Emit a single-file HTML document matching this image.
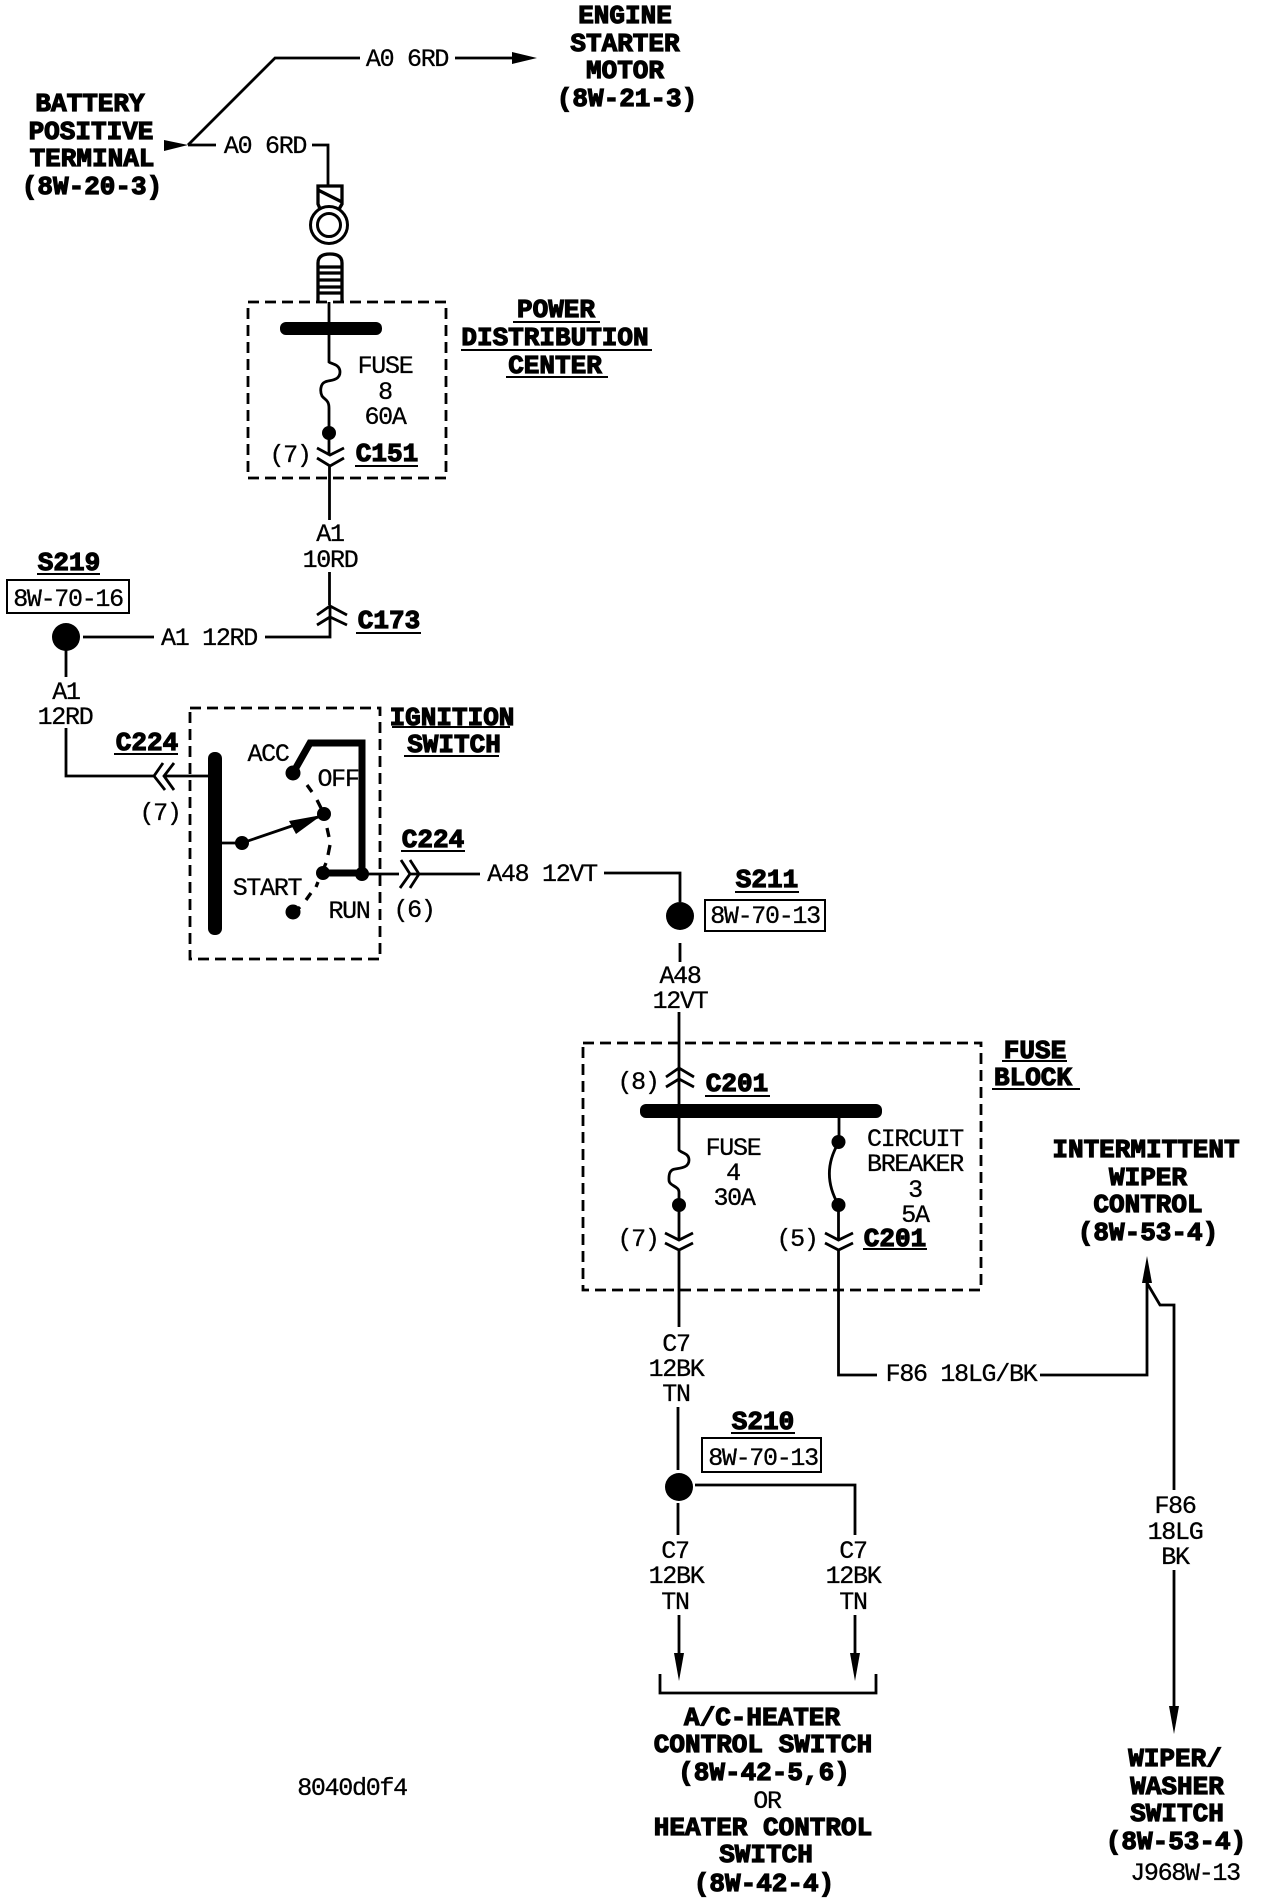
<!DOCTYPE html>
<html><head><meta charset="utf-8"><style>
html,body{margin:0;padding:0;background:#fff;width:1264px;height:1898px;overflow:hidden}
svg{display:block}
.w{fill:none;stroke:#000;stroke-width:2.8}
.h{fill:none;stroke:#000;stroke-width:3.3}
.t{fill:none;stroke:#000;stroke-width:7}
.d{fill:none;stroke:#000;stroke-width:2.8;stroke-dasharray:11 6}
.u{fill:none;stroke:#000;stroke-width:2}
text{font-family:"Liberation Mono",monospace;fill:#000;text-anchor:middle}
.n{font-size:25px;letter-spacing:-1.3px;stroke:#000;stroke-width:.3px}
.b{font-size:26px;font-weight:bold;stroke:#000;stroke-width:1.2px}
</style></head><body>
<svg xmlns="http://www.w3.org/2000/svg" width="1264" height="1898" viewBox="0 0 1264 1898">
<!-- top wires -->
<path class="w" d="M188 145L275 58H360M455 58H514"/>
<path d="M512 52L537 58L512 64Z"/>
<path d="M164 140L188 145L164 151Z"/>
<path class="w" d="M188 145H216M312 145H328V185"/>
<!-- terminal -->
<path class="h" d="M321 211L318 204V186H342V204L338 211M318 190L342 202"/>
<circle cx="329" cy="225" r="18.500" fill="#fff" stroke="#000" stroke-width="3"/>
<circle cx="329" cy="225" r="11.500" fill="none" stroke="#000" stroke-width="3"/>
<path class="h" d="M318 302V263Q318 254 330 254Q342 254 342 263V302M318 267H342M318 273H342M318 280H342M318 287H342M318 293H342"/>
<!-- PDC -->
<rect class="d" x="248" y="302" width="198" height="176"/>
<rect x="280" y="322" width="102" height="13" rx="6"/>
<path class="w" d="M329 302V362C331 364 340 364 340 372C340 381 329 380 325 382C320 384 320 392 322 396C325 400 329 400 329 408V455"/>
<circle cx="329" cy="433" r="7"/>
<path class="w" d="M317 448L330 455L344 448M317 458L330 466L344 458M329.500 466V520M329.500 572V605"/>
<path class="w" d="M317 615L330 606L347 615M317 625L330 617L347 625M330 606V637H265"/>
<path class="w" d="M83 637H154"/>
<circle cx="66" cy="637" r="14"/>
<path class="w" d="M66 650V677M66 728V776H154M163 763L154 776L165 790M174 763L164 776L174 790M164 776H209"/>
<rect class="w" style="stroke-width:2" x="7" y="580" width="122" height="33"/>
<!-- Ignition -->
<rect class="d" x="190" y="708" width="190" height="251"/>
<rect x="208" y="752" width="14" height="183" rx="6.500"/>
<path class="t" d="M293 773L310 743H362V873H323"/>
<circle cx="293" cy="773" r="7.500"/><circle cx="324" cy="814" r="7"/><circle cx="242" cy="843" r="7"/>
<circle cx="323" cy="873" r="7"/><circle cx="362" cy="874" r="7"/><circle cx="293" cy="912" r="7.500"/>
<path class="w" d="M222 843H242L324 815"/>
<path d="M289 821L322 815L296 834Z"/>
<path class="h" d="M307 785L312 792M317 800L321 808M327 828L329 837M330 845L328 855M326 863L323 870M318 882L316 887M311 893L306 900M300 907L298 909"/>
<path class="w" d="M362 874H399M401 860L410 874L400 888M410 860L419 874L410 888M410 874H480M604 873H680V902"/>
<circle cx="680" cy="916" r="14"/>
<rect class="w" style="stroke-width:2" x="705" y="900" width="120" height="31"/>
<path class="w" d="M680 943V962M679 1012V1104"/>
<!-- Fuse block -->
<rect class="d" x="583" y="1043" width="398" height="247"/>
<path class="w" d="M666 1077L679 1068L694 1077M666 1087L679 1079L694 1087"/>
<rect x="640" y="1104" width="242" height="14" rx="6"/>
<path class="w" d="M679 1118V1150C681 1153 689 1153 689 1160C689 1168 680 1168 675 1169C668 1170 669 1178 669 1180C669 1186 679 1186 679 1192V1240"/>
<circle cx="679" cy="1205" r="7"/><circle cx="838.500" cy="1142" r="7"/><circle cx="838.500" cy="1205" r="7"/>
<path class="w" d="M665 1233L679 1240L693 1233M665 1243L679 1250L693 1243M679 1250V1327"/>
<path class="w" d="M839 1118V1142Q820 1173 838.500 1205V1240M838.500 1250V1375H877"/>
<path class="w" d="M825 1233L838.500 1240L853 1233M825 1243L838.500 1250L853 1243"/>
<path class="w" d="M1040 1375H1147V1282"/>
<path d="M1147 1256L1152 1283H1142Z"/>
<path class="w" d="M1147 1283L1160 1305H1174V1490M1174 1570V1707"/>
<path d="M1169 1706H1179L1174 1734Z"/>
<!-- S210 -->
<path class="w" d="M678 1407V1470M678 1503V1535M695 1485H855V1535M679 1615V1653M855 1615V1653"/>
<circle cx="679" cy="1487" r="14"/>
<rect class="w" style="stroke-width:2" x="702" y="1438" width="119" height="34"/>
<path d="M674 1653H684L679 1681Z"/><path d="M850 1653H860L855 1681Z"/>
<path class="w" d="M660 1674V1693H876V1674"/>
<!-- underlines -->
<path class="u" d="M513 322H600M461 350H652M506 377H608M355 466H418M356 633H421M37 574H100M114 754H178M392 727H510M404 756H499M401 851H465M735 892H799M705 1096H770M863 1249H927M1002 1061H1067M992 1089H1080M731 1433H795"/>
<g transform="translate(0,8)">
<text class="b" x="625" y="15">ENGINE</text>
<text class="b" x="625" y="43">STARTER</text>
<text class="b" x="625" y="70">MOTOR</text>
<text class="b" x="627" y="98">(8W-21-3)</text>
<text class="b" x="90" y="103">BATTERY</text>
<text class="b" x="91" y="131">POSITIVE</text>
<text class="b" x="92" y="158">TERMINAL</text>
<text class="b" x="92" y="186">(8W-20-3)</text>
<text class="b" x="556" y="309">POWER</text>
<text class="b" x="555" y="337">DISTRIBUTION</text>
<text class="b" x="555" y="365">CENTER</text>
<text class="b" x="387" y="453">C151</text>
<text class="b" x="389" y="620">C173</text>
<text class="b" x="69" y="562">S219</text>
<text class="b" x="147" y="742">C224</text>
<text class="b" x="452" y="717">IGNITION</text>
<text class="b" x="454" y="744">SWITCH</text>
<text class="b" x="433" y="839">C224</text>
<text class="b" x="767" y="879">S211</text>
<text class="b" x="737" y="1083">C201</text>
<text class="b" x="895" y="1238">C201</text>
<text class="b" x="1035" y="1050">FUSE</text>
<text class="b" x="1033" y="1077">BLOCK</text>
<text class="b" x="1146" y="1149">INTERMITTENT</text>
<text class="b" x="1148" y="1177">WIPER</text>
<text class="b" x="1148" y="1204">CONTROL</text>
<text class="b" x="1148" y="1232">(8W-53-4)</text>
<text class="b" x="763" y="1421">S210</text>
<text class="b" x="762" y="1717">A/C-HEATER</text>
<text class="b" x="763" y="1744">CONTROL SWITCH</text>
<text class="b" x="764" y="1772">(8W-42-5,6)</text>
<text class="b" x="763" y="1827">HEATER CONTROL</text>
<text class="b" x="766" y="1854">SWITCH</text>
<text class="b" x="764" y="1883">(8W-42-4)</text>
<text class="b" x="1175" y="1758">WIPER/</text>
<text class="b" x="1177" y="1786">WASHER</text>
<text class="b" x="1177" y="1813">SWITCH</text>
<text class="b" x="1176" y="1841">(8W-53-4)</text>

<text class="n" x="407" y="58">A0 6RD</text>
<text class="n" x="265" y="145">A0 6RD</text>
<text class="n" x="385" y="365">FUSE</text>
<text class="n" x="385" y="391">8</text>
<text class="n" x="385" y="416">60A</text>
<text class="n" x="290" y="454">(7)</text>
<text class="n" x="330" y="533">A1</text>
<text class="n" x="330" y="559">10RD</text>
<text class="n" x="209" y="637">A1 12RD</text>
<text class="n" x="68" y="598">8W-70-16</text>
<text class="n" x="66" y="691">A1</text>
<text class="n" x="65" y="716">12RD</text>
<text class="n" x="160" y="812">(7)</text>
<text class="n" x="268" y="753">ACC</text>
<text class="n" x="338" y="778">OFF</text>
<text class="n" x="267" y="887">START</text>
<text class="n" x="349" y="910">RUN</text>
<text class="n" x="414" y="909">(6)</text>
<text class="n" x="542" y="873">A48 12VT</text>
<text class="n" x="765" y="915">8W-70-13</text>
<text class="n" x="680" y="975">A48</text>
<text class="n" x="680" y="1000">12VT</text>
<text class="n" x="638" y="1081">(8)</text>
<text class="n" x="733" y="1147">FUSE</text>
<text class="n" x="733" y="1172">4</text>
<text class="n" x="734" y="1197">30A</text>
<text class="n" x="638" y="1238">(7)</text>
<text class="n" x="797" y="1238">(5)</text>
<text class="n" x="915" y="1138">CIRCUIT</text>
<text class="n" x="915" y="1163">BREAKER</text>
<text class="n" x="915" y="1189">3</text>
<text class="n" x="915" y="1214">5A</text>
<text class="n" x="961" y="1373">F86 18LG/BK</text>
<text class="n" x="676" y="1343">C7</text>
<text class="n" x="676" y="1368">12BK</text>
<text class="n" x="676" y="1393">TN</text>
<text class="n" x="763" y="1457">8W-70-13</text>
<text class="n" x="675" y="1550">C7</text>
<text class="n" x="676" y="1575">12BK</text>
<text class="n" x="675" y="1601">TN</text>
<text class="n" x="853" y="1550">C7</text>
<text class="n" x="853" y="1575">12BK</text>
<text class="n" x="853" y="1601">TN</text>
<text class="n" x="767" y="1800">OR</text>
<text class="n" x="352" y="1787">8040d0f4</text>
<text class="n" x="1175" y="1505">F86</text>
<text class="n" x="1175" y="1531">18LG</text>
<text class="n" x="1175" y="1556">BK</text>
<text class="n" x="1185" y="1872">J968W-13</text>
</g>
</svg>
</body></html>
